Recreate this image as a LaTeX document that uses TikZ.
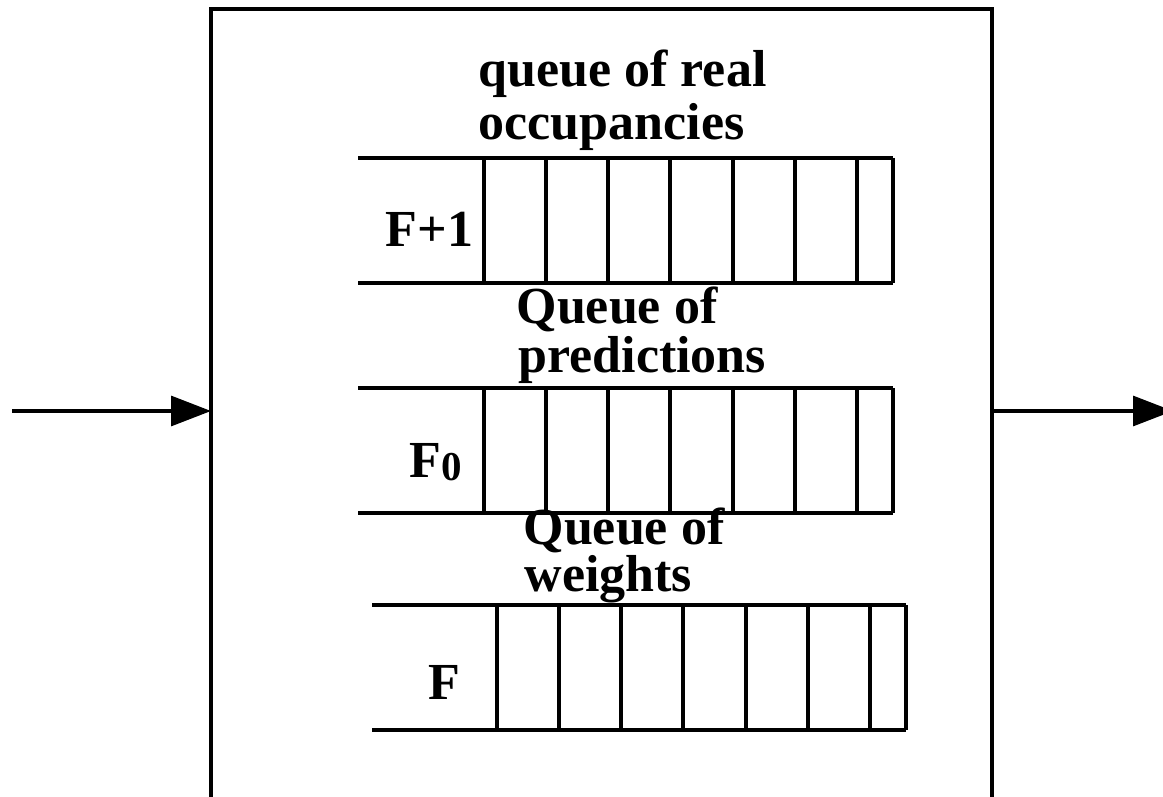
\documentclass[tikz,border=0pt]{standalone}
\usepackage{fontspec}
\setmainfont{Liberation Serif}
\usetikzlibrary{arrows.meta}
\begin{document}
\begin{tikzpicture}[x=1pt,y=-1pt, line width=3.2pt,
  lbl/.style={anchor=base west, inner sep=0pt, font=\fontsize{52}{52}\selectfont\bfseries},
  arr/.style={-{Triangle[length=40pt,width=30pt]}},
  qline/.style={line width=3.2pt}]
\useasboundingbox (0,0) rectangle (1163,797);
\clip (0,0) rectangle (1163,797);
% outer box (open at the bottom)
\draw (211,830) -- (211,9) -- (992,9) -- (992,830);
% connectors
\coordinate (inS) at (12,411);
\coordinate (boxL) at (211,411);
\coordinate (boxR) at (992,411);
\coordinate (outE) at (1173,411);
\draw[arr] (inS) -- (boxL);
\draw[arr] (boxR) -- (outE);
% queue 1
\draw[qline] (358,158) -- (893,158) (358,283) -- (893,283);
\foreach \x in {484,546,608,670,733,795,857,893} \draw[qline] (\x,158) -- (\x,283);
% queue 2
\draw[qline] (358,388) -- (893,388) (358,513) -- (893,513);
\foreach \x in {484,546,608,670,733,795,857,893} \draw[qline] (\x,388) -- (\x,513);
% queue 3
\draw[qline] (372,605) -- (906,605) (372,730) -- (906,730);
\foreach \x in {497,559,621,683,746,808,870,906} \draw[qline] (\x,605) -- (\x,730);
% titles
\node[lbl] (t1a) at (477,87) {queue of real};
\node[lbl] (t1b) at (477,140) {occupancies};
\node[lbl] (t2a) at (515,323) {Queue of};
\node[lbl] (t2b) at (517,372) {predictions};
\node[lbl] (t3a) at (522,544) {Queue of};
\node[lbl] (t3b) at (523,591) {weights};
% row labels
\node[lbl] (l1) at (384,247) {F+1};
\node[lbl] (l2) at (408,477) {F\raisebox{-3pt}{\fontsize{41}{41}\selectfont 0}};
\node[lbl] (l3) at (427,699) {F};
\end{tikzpicture}
\end{document}
